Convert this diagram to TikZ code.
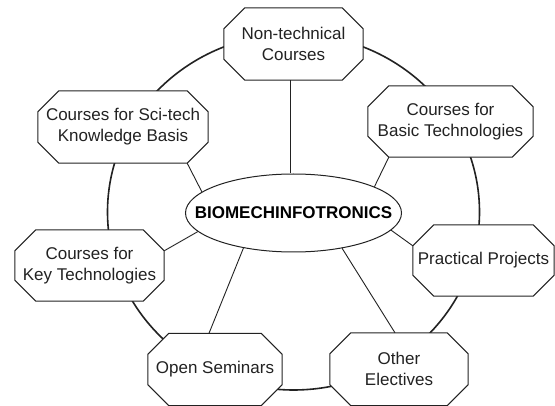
\documentclass[tikz,border=0pt]{standalone}
\usepackage{fontspec}
\setmainfont{Liberation Sans}
\usetikzlibrary{calc,shapes.geometric}
\pgfdeclarelayer{ringlayer}
\pgfdeclarelayer{boxlayer}
\pgfsetlayers{ringlayer,boxlayer,main}
\definecolor{ink}{HTML}{222222}
\newcommand\octch{21}
\newcommand\drawoct[1]{%
  \begin{pgfonlayer}{boxlayer}
    \filldraw[octline] ($(#1.north west)+(\octch,0)$) -- ($(#1.north east)+(-\octch,0)$)
      -- ($(#1.north east)+(0,\octch)$) -- ($(#1.south east)+(0,-\octch)$)
      -- ($(#1.south east)+(-\octch,0)$) -- ($(#1.south west)+(\octch,0)$)
      -- ($(#1.south west)+(0,-\octch)$) -- ($(#1.north west)+(0,\octch)$) -- cycle;
  \end{pgfonlayer}}
\tikzset{
  box/.style={rectangle, draw=none, inner sep=0pt, align=center, text=ink,
    font=\fontsize{17}{21}\selectfont},
  octline/.style={draw=ink, line width=1pt, fill=white, line join=miter},
  spoke/.style={draw=ink, line width=0.9pt},
  ring/.style={draw=ink, line width=1.6pt},
  hub/.style={ellipse, draw=ink, line width=1pt, fill=white, inner sep=0pt,
    minimum width=216pt, minimum height=78pt, text=black,
    font=\fontsize{17}{21}\selectfont\bfseries}
}
\begin{document}
\begin{tikzpicture}[x=1pt,y=-1pt]
\begin{pgfonlayer}{ringlayer}
  \fill[white] (0,0) rectangle (555,406);
  \draw[ring] (293.5,212) ellipse [x radius=186, y radius=178];
\end{pgfonlayer}
\useasboundingbox (0,0) rectangle (555,406);

\node[box, minimum width=139pt, minimum height=72pt] (nt) at (293.5,44) {Non-technical\\Courses};
\node[box, minimum width=170pt, minimum height=72pt] (sci) at (123,127) {Courses for Sci-tech\\Knowledge Basis};
\node[box, minimum width=165pt, minimum height=71pt] (basic) at (450.5,121.5) {Courses for\\Basic Technologies};
\node[box, minimum width=149pt, minimum height=71pt] (key) at (89.5,265.5) {Courses for\\Key Technologies};
\node[box, minimum width=141pt, minimum height=71pt] (prac) at (483.5,260.5) {Practical Projects};
\node[box, minimum width=134pt, minimum height=72pt] (open) at (215,369.5) {Open Seminars};
\node[box, minimum width=138pt, minimum height=72.5pt] (other) at (399,369.25) {Other\\Electives};

\drawoct{nt}
\drawoct{sci}
\drawoct{basic}
\drawoct{key}
\drawoct{prac}
\drawoct{open}
\drawoct{other}

\node[hub] (bio) at (293.5,213) {\makebox[0pt][c]{BIOMECHINFOTRONICS}};

\coordinate (ntfoot) at ($(nt.south)+(-3.5,0)$);
\draw[spoke] (ntfoot) -- (ntfoot |- bio.north);
\draw[spoke] (bio.167) -- ($(sci.south east)+(-\octch,0)$);
\draw[spoke] (bio.18) -- ($(basic.south west)+(\octch,0)$);
\draw[spoke] (bio.191) -- ($(key.north east)+(0,\octch)$);
\draw[spoke] (bio.350) -- ($(prac.north west)+(0,\octch)$);
\draw[spoke] (bio.215) -- ($(open.north)+(-6,0)$);
\draw[spoke] (bio.324) -- ($(other.north)+(-4,0)$);
\end{tikzpicture}
\end{document}
